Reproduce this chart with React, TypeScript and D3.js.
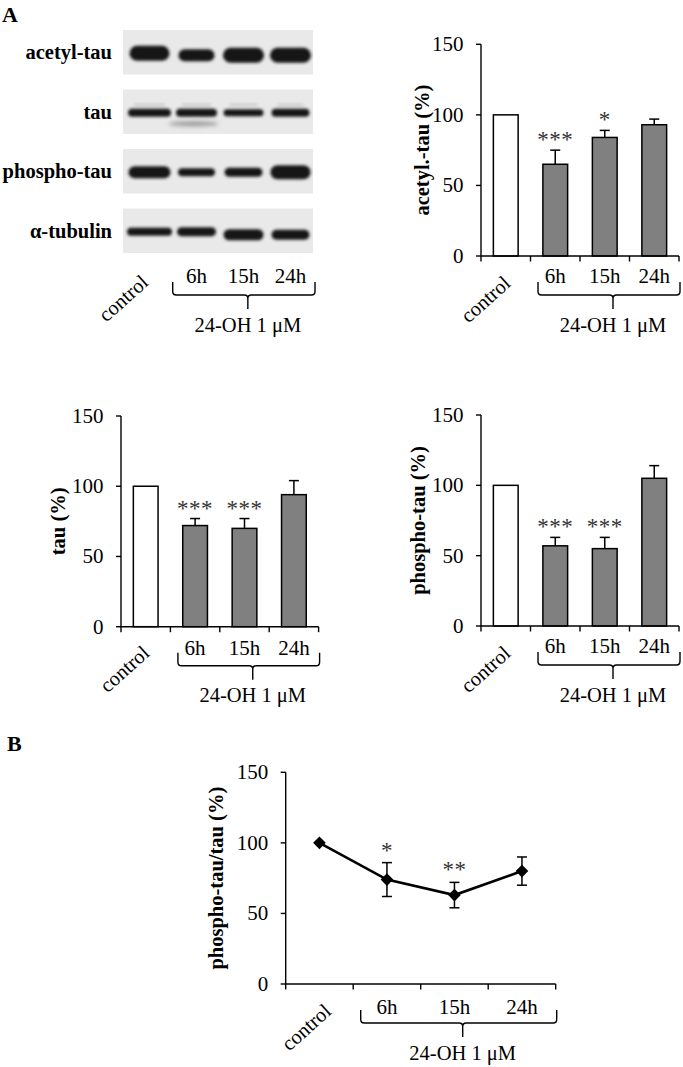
import React from 'react';
import * as d3 from 'd3';

const FONT = '"Liberation Serif", "Times New Roman", Times, serif';

const categories = ['control', '6h', '15h', '24h'];
const treatedLabel = '24-OH 1 μM';
const yTicks = [0, 50, 100, 150];

const acetylMean = [100, 65, 84, 93];
const acetylErr = [0, 10, 5, 4];
const acetylStars = ['', '***', '*', ''];

const tauMean = [100, 72, 70, 94];
const tauErr = [0, 5, 7, 10];
const tauStars = ['', '***', '***', ''];

const phosphoMean = [100, 57, 55, 105];
const phosphoErr = [0, 6, 8, 9];
const phosphoStars = ['', '***', '***', ''];

const ratioMean = [100, 74, 63, 80];
const ratioErr = [0, 12, 9, 10];
const ratioStars = ['', '*', '**', ''];

const blotRows = ['acetyl-tau', 'tau', 'phospho-tau', 'α-tubulin'];
// relative band strength (thickness) per row and lane
const bandStrength = [
  [15, 12, 15, 15],
  [8, 8, 7, 8],
  [12, 8, 9, 14],
  [8, 9, 11, 10],
];
const bandSpread = [
  [40, 36, 41, 41],
  [43, 41, 40, 38],
  [42, 37, 38, 40],
  [45, 39, 40, 38],
];

type FrameProps = {
  x0: number; xEnd: number; yb: number; yt: number;
  ylabel: string; labelX: number; ctrlDx: number; ctrlDy: number; catDy: number;
  children: (x: d3.ScaleBand<string>, y: d3.ScaleLinear<number, number>) => React.ReactNode;
};

function Bracket({ x1, x2, yb }: { x1: number; x2: number; yb: number }) {
  const top = yb + 26, h = yb + 39, tip = yb + 53, r = 3.5;
  const xc = (x1 + x2) / 2 + 4;
  const d = `M${x1},${top} V${h - r} Q${x1},${h} ${x1 + r},${h} H${xc - r} Q${xc},${h} ${xc},${h + r} V${tip}
    M${xc},${h + r} Q${xc},${h} ${xc + r},${h} H${x2 - r} Q${x2},${h} ${x2},${h - r} V${top}`;
  return (
    <g>
      <path d={d} fill="none" stroke="#000" strokeWidth={1.4} />
      <text x={xc} y={yb + 75.5} textAnchor="middle" fontFamily={FONT} fontSize={20.5}>{treatedLabel}</text>
    </g>
  );
}

function Frame(p: FrameProps) {
  const x = d3.scaleBand<string>().domain(categories).range([p.x0, p.xEnd]).paddingInner(0.5).paddingOuter(0.25);
  const y = d3.scaleLinear().domain([0, 150]).range([p.yb, p.yt]);
  const step = x.step();
  const bounds = d3.range(categories.length + 1).map((i) => p.x0 + i * step);
  const cx = (c: string) => (x(c) as number) + x.bandwidth() / 2;
  const yMid = (p.yb + p.yt) / 2;
  return (
    <g>
      {p.children(x, y)}
      <line x1={p.x0} x2={p.x0} y1={y(150)} y2={p.yb} stroke="#000" strokeWidth={1.4} />
      <line x1={p.x0} x2={p.xEnd} y1={p.yb} y2={p.yb} stroke="#000" strokeWidth={1.4} />
      {yTicks.map((t) => (
        <g key={t}>
          <line x1={p.x0 - 5} x2={p.x0} y1={y(t)} y2={y(t)} stroke="#000" strokeWidth={1.4} />
          <text x={p.x0 - 17.5} y={y(t) + 7} textAnchor="end" fontFamily={FONT} fontSize={21}>{t}</text>
        </g>
      ))}
      {bounds.map((b, i) => (
        <line key={i} x1={b} x2={b} y1={p.yb} y2={p.yb + 5.5} stroke="#000" strokeWidth={1.4} />
      ))}
      {categories.slice(1).map((c) => (
        <text key={c} x={cx(c)} y={p.yb + p.catDy} textAnchor="middle" fontFamily={FONT} fontSize={21}>{c}</text>
      ))}
      <text
        transform={`translate(${cx(categories[0]) + p.ctrlDx},${p.yb + p.ctrlDy}) rotate(-42)`}
        textAnchor="end" fontFamily={FONT} fontSize={20.5}
      >{categories[0]}</text>
      <Bracket x1={bounds[1] + 7.5} x2={p.xEnd + 1} yb={p.yb} />
      <text
        transform={`translate(${p.labelX},${yMid}) rotate(-90)`}
        textAnchor="middle" fontFamily={FONT} fontSize={20.5} fontWeight="bold"
      >{p.ylabel}</text>
    </g>
  );
}

function Bars({ x, y, means, errs, stars }: {
  x: d3.ScaleBand<string>; y: d3.ScaleLinear<number, number>; means: number[]; errs: number[]; stars: string[];
}) {
  const bw = x.bandwidth();
  return (
    <g>
      {categories.map((c, i) => {
        const bx = x(c) as number;
        const cx = bx + bw / 2;
        const top = y(means[i]);
        const et = y(means[i] + errs[i]);
        return (
          <g key={c}>
            <rect x={bx} y={top} width={bw} height={y(0) - top}
              fill={i === 0 ? '#fff' : '#808080'} stroke="#000" strokeWidth={1.5} />
            {errs[i] > 0 && (
              <g stroke="#000" strokeWidth={1.5}>
                <line x1={cx} x2={cx} y1={top} y2={et} />
                <line x1={cx - 5} x2={cx + 5} y1={et} y2={et} />
              </g>
            )}
            {stars[i] && (
              <text x={cx} y={et - 3} textAnchor="middle" fontFamily={FONT} fontSize={23}
                letterSpacing={0.5} fill="#333">{stars[i]}</text>
            )}
          </g>
        );
      })}
    </g>
  );
}

function LineSeries({ x, y }: { x: d3.ScaleBand<string>; y: d3.ScaleLinear<number, number> }) {
  const cx = (c: string) => (x(c) as number) + x.bandwidth() / 2;
  const pts = categories.map((c, i) => [cx(c), y(ratioMean[i])] as [number, number]);
  const line = d3.line()(pts) as string;
  const diamond = d3.symbol(d3.symbolSquare, 80)() as string;
  return (
    <g>
      {categories.map((c, i) => {
        if (!ratioErr[i]) return null;
        const px = cx(c);
        const a = y(ratioMean[i] + ratioErr[i]);
        const b = y(ratioMean[i] - ratioErr[i]);
        return (
          <g key={c} stroke="#000" strokeWidth={1.5}>
            <line x1={px} x2={px} y1={a} y2={b} />
            <line x1={px - 5} x2={px + 5} y1={a} y2={a} />
            <line x1={px - 5} x2={px + 5} y1={b} y2={b} />
          </g>
        );
      })}
      <path d={line} fill="none" stroke="#000" strokeWidth={2.6} />
      {pts.map((pt, i) => (
        <path key={i} d={diamond} transform={`translate(${pt[0]},${pt[1]}) rotate(45)`} fill="#000" />
      ))}
      {categories.map((c, i) =>
        ratioStars[i] ? (
          <text key={c} x={cx(c)} y={y(ratioMean[i] + ratioErr[i]) - 5} textAnchor="middle"
            fontFamily={FONT} fontSize={23} letterSpacing={0.5} fill="#333">{ratioStars[i]}</text>
        ) : null
      )}
    </g>
  );
}

function Blot() {
  const lanes = d3.scaleBand<string>().domain(categories).range([126, 314]);
  const rows = d3.scaleBand<string>().domain(blotRows).range([30, 253]).paddingInner(0.252);
  const lc = (c: string) => (lanes(c) as number) + lanes.bandwidth() / 2;
  const baseY = 256;
  return (
    <g>
      <defs>
        <filter id="blur" x="-30%" y="-80%" width="160%" height="260%">
          <feGaussianBlur stdDeviation="1.6" />
        </filter>
        <filter id="blur2" x="-30%" y="-150%" width="160%" height="400%">
          <feGaussianBlur stdDeviation="2.2" />
        </filter>
      </defs>
      {blotRows.map((r, ri) => {
        const ry = rows(r) as number;
        const bh = rows.bandwidth();
        const cy = ry + bh / 2 + 1;
        return (
          <g key={r}>
            <rect x={123} y={ry} width={190} height={bh} fill="#e9e9e9" />
            <text x={112} y={cy + 6} textAnchor="end" fontFamily={FONT} fontSize={20.5} fontWeight="bold">{r}</text>
            {categories.map((c, li) => {
              const t = bandStrength[ri][li];
              const w = bandSpread[ri][li];
              const yy = cy + (ri === 0 && li > 0 ? 2 : 0) + (ri === 3 && li > 1 ? 3 : 0);
              return (
                <g key={c}>
                  {ri === 1 && (
                    <rect x={lc(c) - w / 2 + 6} y={yy - 9} width={w - 12} height={2} fill="#c4c4c4" filter="url(#blur)" />
                  )}
                  <rect x={lc(c) - w / 2} y={yy - t / 2} width={w} height={t} rx={t / 2}
                    fill="#141414" filter="url(#blur)" />
                </g>
              );
            })}
            {ri === 1 && (
              <ellipse cx={lc('6h') - 3} cy={cy + 11} rx={25} ry={2.5} fill="#9a9a9a" filter="url(#blur2)" />
            )}
          </g>
        );
      })}
      {categories.slice(1).map((c) => (
        <text key={c} x={lc(c)} y={baseY + 27} textAnchor="middle" fontFamily={FONT} fontSize={21}>{c}</text>
      ))}
      <text transform={`translate(${lc(categories[0])},${baseY + 28}) rotate(-42)`}
        textAnchor="end" fontFamily={FONT} fontSize={20.5}>{categories[0]}</text>
      <Bracket x1={172.7} x2={315} yb={baseY} />
    </g>
  );
}

export default function App() {
  return (
    <svg width={683} height={1067} style={{ position: 'absolute', left: 0, top: 0, background: '#fff' }}>
      <rect width={683} height={1067} fill="#fff" />
      <text x={2} y={21.5} fontFamily={FONT} fontSize={22} fontWeight="bold">A</text>
      <text x={7} y={751} fontFamily={FONT} fontSize={22} fontWeight="bold">B</text>
      <Blot />
      <Frame x0={481} xEnd={679} yb={256} yt={44.3} ylabel="acetyl.-tau (%)" labelX={429}
        ctrlDx={6} ctrlDy={29} catDy={27}>
        {(x, y) => <Bars x={x} y={y} means={acetylMean} errs={acetylErr} stars={acetylStars} />}
      </Frame>
      <Frame x0={121} xEnd={318.6} yb={626.7} yt={416} ylabel="tau (%)" labelX={65}
        ctrlDx={5} ctrlDy={28} catDy={28}>
        {(x, y) => <Bars x={x} y={y} means={tauMean} errs={tauErr} stars={tauStars} />}
      </Frame>
      <Frame x0={481} xEnd={679} yb={626} yt={415} ylabel="phospho-tau (%)" labelX={425}
        ctrlDx={6} ctrlDy={29} catDy={27}>
        {(x, y) => <Bars x={x} y={y} means={phosphoMean} errs={phosphoErr} stars={phosphoStars} />}
      </Frame>
      <Frame x0={285.7} xEnd={555.7} yb={984} yt={772.3} ylabel="phospho-tau/tau (%)" labelX={223}
        ctrlDx={13} ctrlDy={29} catDy={30}>
        {(x, y) => <LineSeries x={x} y={y} />}
      </Frame>
    </svg>
  );
}
